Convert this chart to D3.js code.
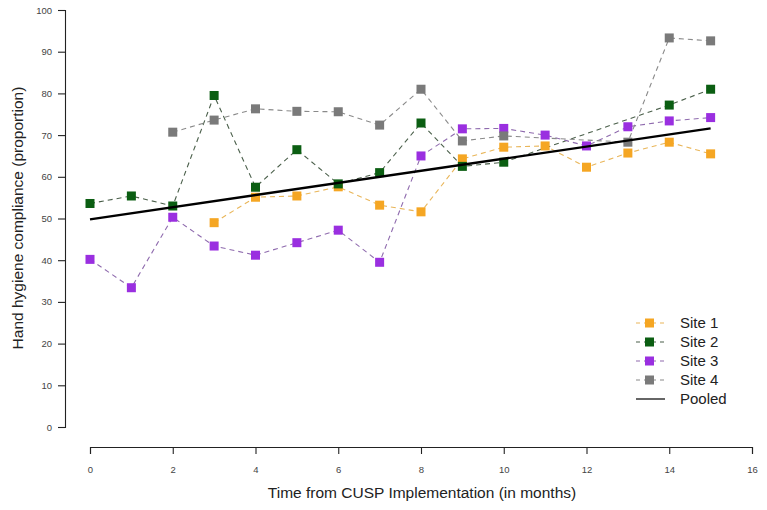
<!DOCTYPE html>
<html><head><meta charset="utf-8">
<script src="https://cdn.jsdelivr.net/npm/d3@7"></script>
<style>body{margin:0;background:#fff}svg{display:block;font-family:"Liberation Sans",Arial,sans-serif}</style>
</head><body><svg id="c" width="767" height="510"></svg>
<script>
const months1 = [3,4,5,6,7,8,9,10,11,12,13,14,15];
const site1 = [49,55.1,55.4,57.6,53.2,51.6,64.3,67.1,67.4,62.3,65.7,68.3,65.5];
const months2 = [0,1,2,3,4,5,6,7,8,9,10,14,15];
const site2 = [53.6,55.4,53,79.5,57.5,66.5,58.3,61,72.9,62.5,63.5,77.2,81];
const months3 = [0,1,2,3,4,5,6,7,8,9,10,11,12,13,14,15];
const site3 = [40.2,33.4,50.3,43.4,41.2,44.2,47.2,39.5,65,71.5,71.6,70,67.4,72,73.4,74.2];
const months4 = [2,3,4,5,6,7,8,9,10,13,14,15];
const site4 = [70.7,73.6,76.3,75.7,75.6,72.4,81,68.6,69.8,68.3,93.3,92.6];
const pooledX = [0,15];
const pooledY = [49.8,71.6];
const xTicks = [0,2,4,6,8,10,12,14,16];
const yTicks = [0,10,20,30,40,50,60,70,80,90,100];
const siteNames = ["Site 1","Site 2","Site 3","Site 4"];
const colors = ["#F5A623","#0B5E12","#9A2FE0","#7A7A7A"];
const lineColors = ["#E9B65A","#4A5F4A","#8F6BAE","#8A8A8A"];

const svg = d3.select("#c");
const x = d3.scaleLinear().domain([0,16]).range([90,752]);
const y = d3.scaleLinear().domain([0,100]).range([427,10]);

const ya = svg.append("g").attr("transform","translate(65,0)")
  .call(d3.axisLeft(y).tickValues(yTicks).tickSize(7).tickPadding(6));
const xa = svg.append("g").attr("transform","translate(0,447)")
  .call(d3.axisBottom(x).tickValues(xTicks).tickSize(7).tickPadding(12));
[ya,xa].forEach(a=>{
  a.selectAll("path").attr("stroke","#222").attr("stroke-width",1.1);
  a.selectAll("line").attr("stroke","#222").attr("stroke-width",1.1);
  a.selectAll("text").attr("fill","#444").style("font-size","9.5px").style("font-family","Liberation Sans, Arial, sans-serif");
});

svg.append("text").attr("x",422).attr("y",498).attr("text-anchor","middle")
  .style("font-size","15.5px").attr("fill","#222").text("Time from CUSP Implementation (in months)");
svg.append("text").attr("transform","translate(23,218) rotate(-90)").attr("text-anchor","middle")
  .style("font-size","15.5px").attr("fill","#222").text("Hand hygiene compliance (proportion)");

const series = [[months1,site1],[months2,site2],[months3,site3],[months4,site4]];
const line = d3.line().x(d=>x(d[0])).y(d=>y(d[1]));
series.forEach(([ms,vs],i)=>{
  const pts = ms.map((m,k)=>[m,vs[k]]);
  svg.append("path").datum(pts).attr("d",line).attr("fill","none")
    .attr("stroke",lineColors[i]).attr("stroke-width",1.1).attr("stroke-dasharray","5,4");
});
series.forEach(([ms,vs],i)=>{
  const pts = ms.map((m,k)=>[m,vs[k]]);
  svg.append("g").selectAll("rect").data(pts).join("rect")
    .attr("x",d=>x(d[0])-4.5).attr("y",d=>y(d[1])-4.5).attr("width",9).attr("height",9)
    .attr("fill",colors[i]);
});
svg.append("path").datum(pooledX.map((m,k)=>[m,pooledY[k]])).attr("d",line)
  .attr("fill","none").attr("stroke","#000").attr("stroke-width",2.4);

const ly = [323,342,361,380,399];
siteNames.forEach((n,i)=>{
  svg.append("line").attr("x1",636).attr("x2",665).attr("y1",ly[i]).attr("y2",ly[i])
    .attr("stroke",lineColors[i]).attr("stroke-width",1.1).attr("stroke-dasharray","4,4");
  svg.append("rect").attr("x",645).attr("y",ly[i]-4.5).attr("width",9).attr("height",9).attr("fill",colors[i]);
  svg.append("text").attr("x",680).attr("y",ly[i]+5).style("font-size","15px").attr("fill","#222").text(n);
});
svg.append("line").attr("x1",636).attr("x2",665).attr("y1",ly[4]).attr("y2",ly[4]).attr("stroke","#000").attr("stroke-width",1.2);
svg.append("text").attr("x",680).attr("y",ly[4]+5).style("font-size","15px").attr("fill","#222").text("Pooled");
</script></body></html>
